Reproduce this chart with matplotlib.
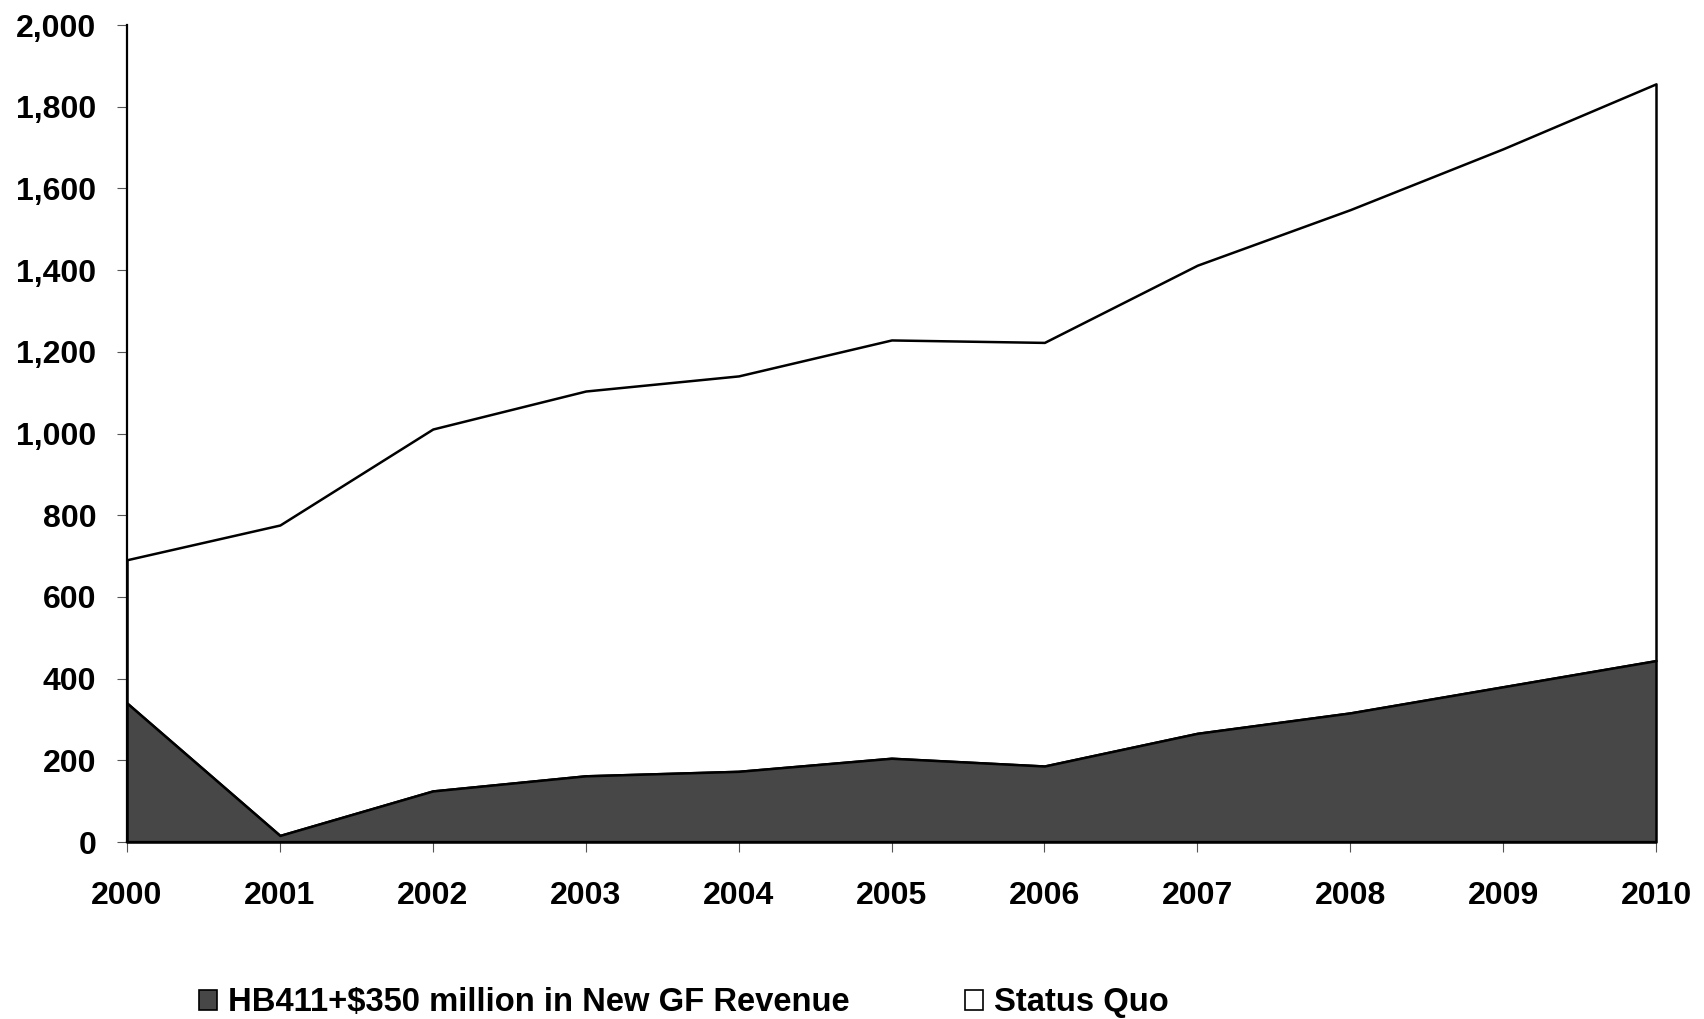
import matplotlib
matplotlib.use("Agg")
import matplotlib.pyplot as plt
from matplotlib.patches import Patch
from matplotlib.ticker import FuncFormatter

years = [2000, 2001, 2002, 2003, 2004, 2005, 2006, 2007, 2008, 2009, 2010]
status_quo = [691, 776, 1011, 1104, 1141, 1229, 1223, 1412, 1548, 1697, 1856]
hb411 = [340, 16, 125, 162, 173, 205, 186, 266, 316, 380, 444]
y_ticks = [0, 200, 400, 600, 800, 1000, 1200, 1400, 1600, 1800, 2000]
legend_labels = ["HB411+$350 million in New GF Revenue", "Status Quo"]

plt.rcParams['font.family'] = ['Liberation Sans', 'DejaVu Sans']
plt.rcParams['font.weight'] = 'bold'

W, H = 1704, 1019
fig = plt.figure(figsize=(W / 100, H / 100), dpi=100)
ax = fig.add_axes([127 / W, (H - 842) / H, (1656 - 127) / W, (842 - 25) / H])

ax.fill_between(years, hb411, status_quo, facecolor='white', edgecolor='black',
                linewidth=1.8, clip_on=False, zorder=2)
ax.fill_between(years, 0, hb411, facecolor='#474747', edgecolor='black',
                linewidth=1.8, clip_on=False, zorder=3)

ax.set_xlim(years[0], years[-1])
ax.set_ylim(y_ticks[0], y_ticks[-1])
ax.set_xticks(years)
ax.set_yticks(y_ticks)
ax.yaxis.set_major_formatter(FuncFormatter(lambda v, p: f"{int(v):,}"))

for s in ['top', 'right']:
    ax.spines[s].set_visible(False)
for s in ['left', 'bottom']:
    ax.spines[s].set_linewidth(1.6)
    ax.spines[s].set_zorder(5)

ax.tick_params(axis='y', direction='out', length=7, width=0.8, pad=15,
               labelsize=23, color='#555555')
ax.tick_params(axis='x', direction='out', length=7, width=0.8, pad=21,
               labelsize=23, color='#555555')
for lab in ax.get_xticklabels() + ax.get_yticklabels():
    lab.set_fontweight('bold')

handles = [Patch(facecolor='#474747', edgecolor='black', linewidth=1.2),
           Patch(facecolor='white', edgecolor='black', linewidth=1.2)]
leg = fig.legend(handles, legend_labels, loc='center left',
                 bbox_to_anchor=(199 / W, 16 / H), ncol=2, frameon=False,
                 borderpad=0, borderaxespad=0, handlelength=0.55,
                 handleheight=0.55, handletextpad=0.35, columnspacing=3.5,
                 prop={'size': 23.6, 'weight': 'bold'})

fig.savefig("out.png", dpi=100, facecolor='white')
